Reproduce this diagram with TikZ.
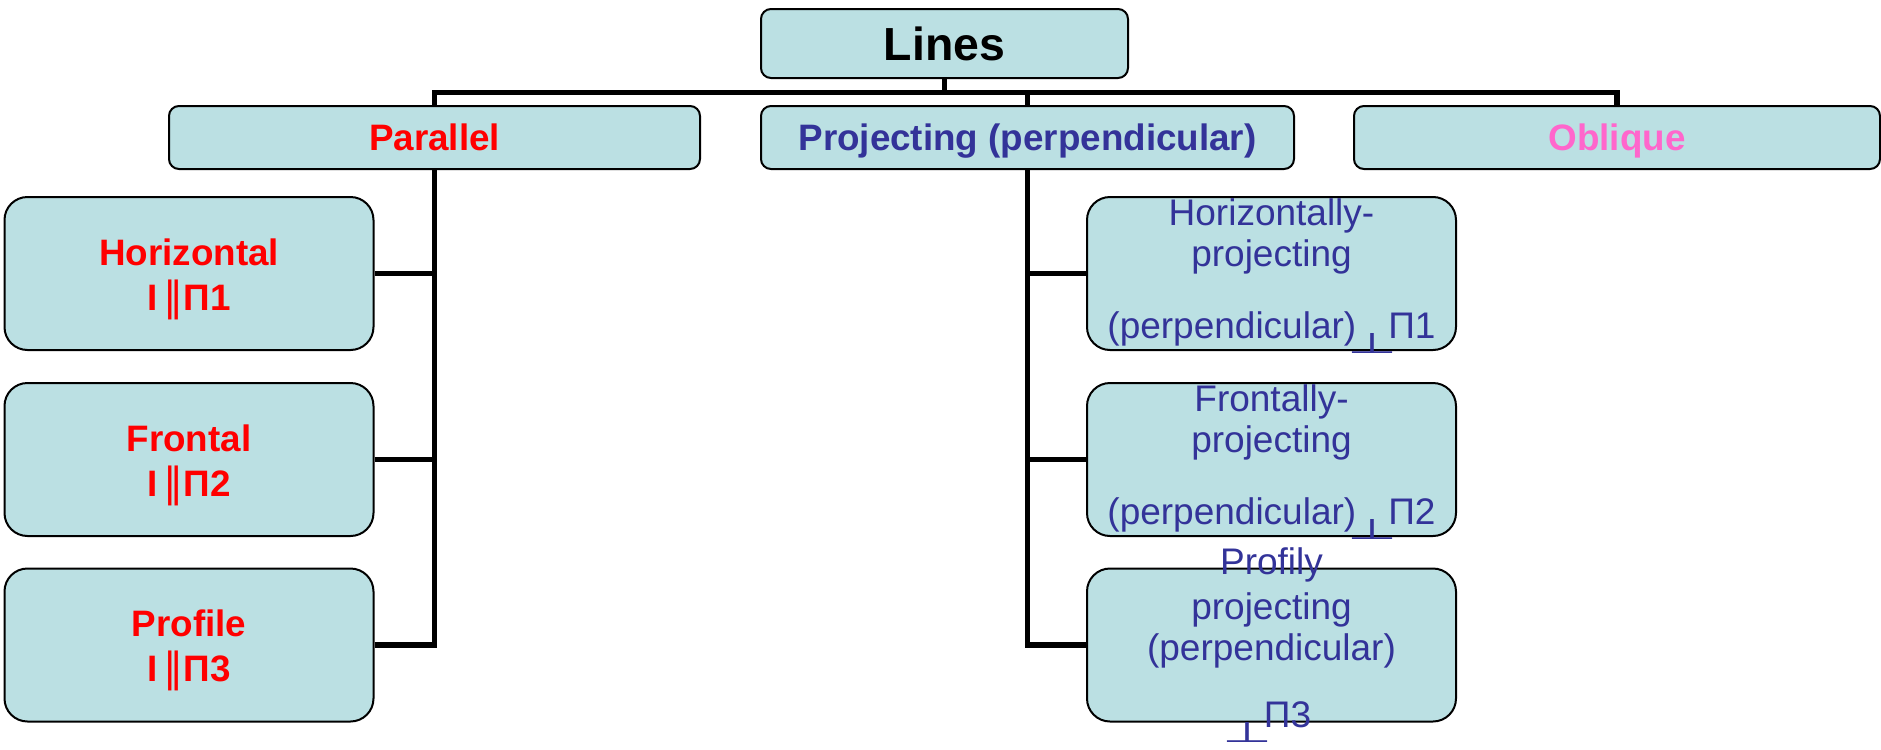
\documentclass[tikz,border=0pt]{standalone}
\usepackage{fontspec}
\setmainfont{Liberation Sans}
\newfontfamily\dvsfont{DejaVu Sans}
\definecolor{boxfill}{RGB}{187,224,227}
\definecolor{projblue}{RGB}{51,51,153}
\definecolor{oblpink}{RGB}{255,102,204}
\newcommand{\parmark}{{\mdseries\dvsfont\fontsize{20}{20}\selectfont ‖}}
\newcommand{\perpmark}{\raisebox{-7.5pt}{\makebox[16pt]{\resizebox{25pt}{10pt}{\mdseries\dvsfont ⊥}}}}
\begin{document}
\begin{tikzpicture}[x=0.5pt,y=-0.5pt,
  headbox/.style={draw,line width=1pt,fill=boxfill,rounded corners=5pt,inner sep=0pt,
    minimum height=31.5pt,text height=13.3pt,text depth=0pt,
    font=\fontsize{18.4}{22}\selectfont\bfseries},
  subbox/.style={draw,line width=1pt,fill=boxfill,rounded corners=11.5pt,
    minimum width=184.5pt,minimum height=76.5pt},
  conn/.style={line width=2.8pt},
  redtext/.style={anchor=north,inner sep=0pt,align=center,text=red,
    font=\fontsize{18.4}{22.5}\selectfont\bfseries},
  bluetext/.style={anchor=north,inner sep=0pt,align=center,text=projblue,
    font=\fontsize{18.5}{20.5}\selectfont}]
  \useasboundingbox (0,0) rectangle (1881,750);
  \node[headbox,minimum width=183.5pt,minimum height=34.5pt,text height=16.6pt,
    font=\fontsize{23.2}{28}\selectfont\bfseries] (lines) at (944.5,43.5) {Lines};
  \node[headbox,minimum width=265.5pt,text=red] (par) at (434.5,137.5) {Parallel};
  \node[headbox,minimum width=266.5pt,text=projblue] (proj) at (1027.5,137.5) {Projecting (perpendicular)};
  \node[headbox,minimum width=263pt,text=oblpink] (obl) at (1617,137.5) {Oblique};
  \coordinate (bus) at (944.5,92.5);
  \draw[conn] (lines) -- (bus);
  \draw[conn] (par) |- (bus) -| (obl);
  \draw[conn] (proj) -- (proj |- bus);
  \foreach \n/\y/\nm/\k in {hz/273.5/Horizontal/1,fr/459.5/Frontal/2,pf/645/Profile/3} {
    \node[subbox] (\n) at (189,\y) {};
    \node[redtext,yshift=19.25pt] (\n-txt) at (\n.center) {\rule{0pt}{15pt}\nm\\I\,\parmark Π\k};
    \draw[conn] (\n) -- (\n -| par);
  }
  \draw[conn] (par) |- (pf);
  \foreach \n/\y/\nm/\k in {hp/273.5/Horizontally-/1,fp/459.5/Frontally-/2} {
    \node[subbox] (\n) at (1271.5,\y) {};
    \node[bluetext,yshift=0.5pt] (\n-txt) at (\n.north) {\rule{0pt}{15pt}\nm\\projecting\\[15.5pt](perpendicular)\perpmark Π\k};
    \draw[conn] (\n) -- (\n -| proj);
  }
  \node[subbox] (pp) at (1271.5,645) {};
  \node[bluetext,yshift=11.5pt] (pp-txt) at (pp.north) {\rule{0pt}{15pt}Profily\\[2pt]projecting\\(perpendicular)\\[13pt]\perpmark Π3};
  \draw[conn] (proj) |- (pp);
\end{tikzpicture}
\end{document}
